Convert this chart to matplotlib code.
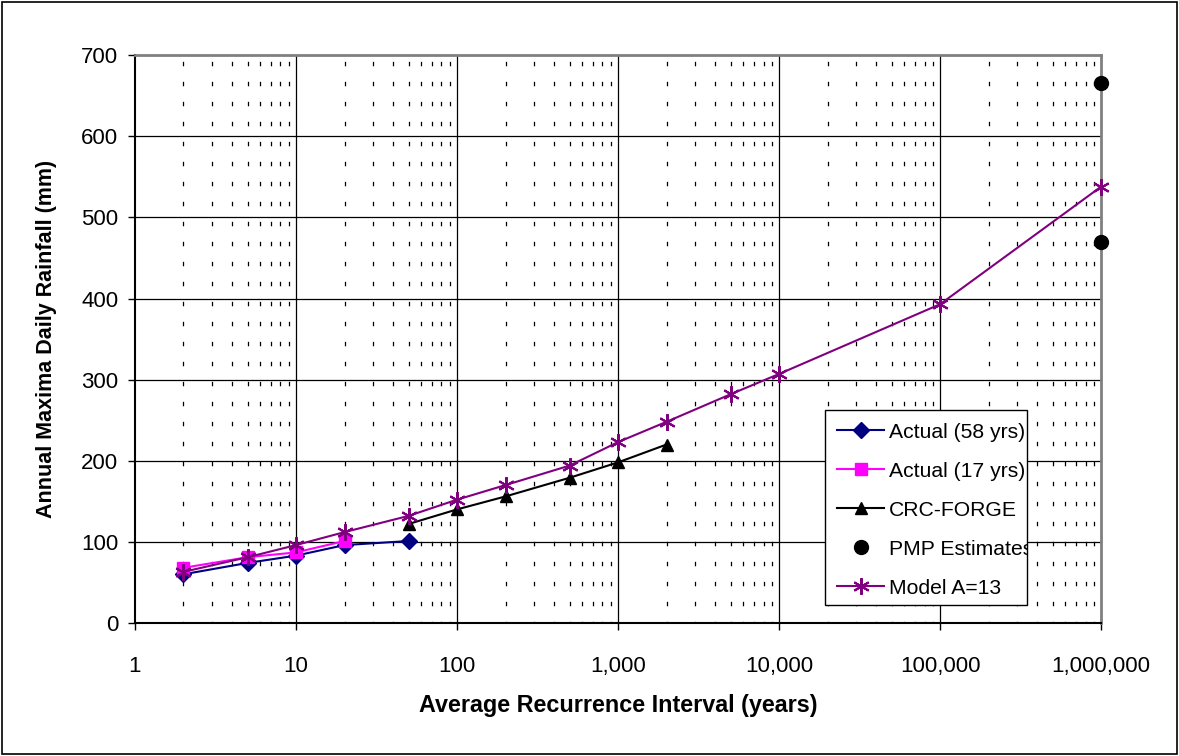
import matplotlib
matplotlib.use("Agg")
import matplotlib.pyplot as plt
from matplotlib.ticker import FixedLocator, NullFormatter
from matplotlib.patches import Rectangle

plt.rcParams['font.family'] = ['Liberation Sans', 'DejaVu Sans']
plt.rcParams['lines.scale_dashes'] = False

# Data
x_58 = [2, 5, 10, 20, 50]
y_58 = [60, 74, 83, 96, 101]
x_17 = [2, 5, 10, 20]
y_17 = [68, 81, 87, 101]
x_crc = [50, 100, 200, 500, 1000, 2000]
y_crc = [122, 140, 156, 179, 198, 220]
x_pmp = [1000000, 1000000]
y_pmp = [666, 470]
x_model = [2, 5, 10, 20, 50, 100, 200, 500, 1000, 2000, 5000, 10000, 100000, 1000000]
y_model = [63, 81, 96, 112, 132, 152, 170, 194, 223, 248, 282, 307, 393, 538]

x_ticks = [1, 10, 100, 1000, 10000, 100000, 1000000]
x_ticklabels = ["1", "10", "100", "1,000", "10,000", "100,000", "1,000,000"]
y_ticks = [0, 100, 200, 300, 400, 500, 600, 700]

fig = plt.figure(figsize=(11.79, 7.56), dpi=100)
ax = fig.add_axes([0.1145, 0.176, 0.8195, 0.751])
ax.set_xscale('log')
ax.set_xlim(1, 1000000)
ax.set_ylim(0, 700)

# Grid
minor = [m * 10**e for e in range(0, 6) for m in range(2, 10)]
for xm in minor:
    ax.axvline(xm, color='black', lw=0.9, linestyle=(2, (3.2, 11.2)), zorder=0)
for xt in x_ticks[1:-1]:
    ax.axvline(xt, color='black', lw=0.9, zorder=0)
for yt in y_ticks[1:-1]:
    ax.axhline(yt, color='black', lw=0.9, zorder=0)

ax.plot(x_58, y_58, color='#000080', marker='D', markersize=8, lw=1.5, label='Actual (58 yrs)', zorder=3)
ax.plot(x_17, y_17, color='#FF00FF', marker='s', markersize=9, lw=1.5, label='Actual (17 yrs)', zorder=3)
ax.plot(x_crc, y_crc, color='black', marker='^', markersize=9, lw=1.5, label='CRC-FORGE', zorder=3)
ax.plot(x_pmp, y_pmp, color='black', marker='o', markersize=10, lw=0, label='PMP Estimates', zorder=4, clip_on=False)
ax.plot(x_model, y_model, color='#800080', marker=(6, 2, 0), markersize=12, mew=1.5, lw=1.5, label='Model A=13', zorder=4, clip_on=False)

ax.xaxis.set_major_locator(FixedLocator(x_ticks))
ax.set_xticklabels(x_ticklabels)
ax.xaxis.set_minor_locator(FixedLocator([]))
ax.xaxis.set_minor_formatter(NullFormatter())
ax.set_yticks(y_ticks)
ax.tick_params(axis='both', labelsize=16, direction='out', length=5, width=1, colors='black')
ax.tick_params(axis='x', pad=19)
ax.tick_params(axis='y', pad=7)

for s in ['top', 'right']:
    ax.spines[s].set_color('#808080')
    ax.spines[s].set_linewidth(2)
for s in ['left', 'bottom']:
    ax.spines[s].set_color('black')
    ax.spines[s].set_linewidth(1.5)

ax.set_xlabel('Average Recurrence Interval (years)', fontsize=16.8, fontweight='bold', labelpad=12)
ax.set_ylabel('Annual Maxima Daily Rainfall (mm)', fontsize=15.5, fontweight='bold', labelpad=17)

# Legend box (tight, as in the reference where the text is cut by the frame)
box = Rectangle((0.714, 0.032), 0.209, 0.343, transform=ax.transAxes,
                facecolor='white', edgecolor='black', lw=1, zorder=4.5, clip_on=False)
ax.add_patch(box)
leg = ax.legend(loc='upper left', bbox_to_anchor=(0.716, 0.3715), fontsize=15.2, frameon=False,
                handlelength=2.2, labelspacing=0.95, borderpad=0.5, handletextpad=0.25,
                borderaxespad=0)
leg.set_zorder(5)
for t in leg.get_texts():
    t.set_clip_on(True)
    t.set_clip_path(box)

fig.patches.append(Rectangle((0.002, 0.002), 0.996, 0.996, transform=fig.transFigure,
                             fill=False, edgecolor='black', lw=1.2))

fig.savefig('out.png', dpi=100)
